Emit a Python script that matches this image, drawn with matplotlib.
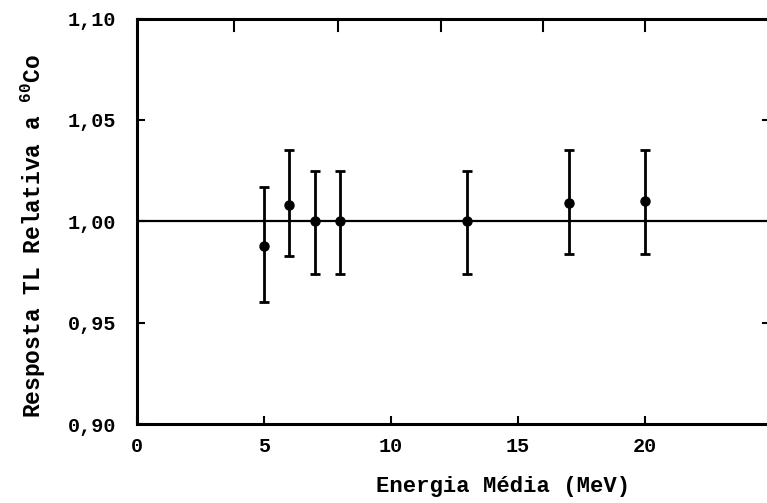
import matplotlib
matplotlib.use("Agg")
import matplotlib.pyplot as plt
import numpy as np

# energia media (MeV) e resposta TL relativa a Co-60
energia = [5, 6, 7, 8, 13, 17, 20]
resposta = [0.988, 1.008, 1.000, 1.000, 1.000, 1.009, 1.010]
erro_sup = [1.017, 1.035, 1.025, 1.025, 1.025, 1.035, 1.035]
erro_inf = [0.960, 0.983, 0.974, 0.974, 0.974, 0.984, 0.984]

xticks = [0, 5, 10, 15, 20]
yticks = [0.90, 0.95, 1.00, 1.05, 1.10]
ytick_labels = ["0,90", "0,95", "1,00", "1,05", "1,10"]
top_ticks = [3.8, 7.9, 11.95, 16.0, 20.0]
right_ticks = [0.95, 1.05]

plt.rcParams['font.family'] = 'Liberation Mono'
plt.rcParams['font.weight'] = 'bold'
plt.rcParams['axes.labelweight'] = 'bold'
plt.rcParams['mathtext.fontset'] = 'custom'
plt.rcParams['mathtext.rm'] = 'Liberation Mono:bold'
plt.rcParams['mathtext.default'] = 'regular'

fig = plt.figure(figsize=(7.67, 5.03), dpi=100)
ax = fig.add_axes([0.1786, 0.157, 0.828, 0.806])

resp = np.array(resposta)
yerr = [resp - np.array(erro_inf), np.array(erro_sup) - resp]
ax.errorbar(energia, resposta, yerr=yerr, fmt='o', color='black', ms=6.5,
            elinewidth=2, capsize=3.3, capthick=2, zorder=3)
ax.axhline(1.0, color='black', lw=1.6, zorder=2)

ax.set_xlim(0, 25)
ax.set_ylim(0.90, 1.10)
ax.set_xticks(xticks)
ax.set_xticklabels([str(t) for t in xticks])
ax.set_yticks(yticks)
ax.set_yticklabels(ytick_labels)
ax.tick_params(axis='both', direction='in', length=6, width=1.5, labelsize=14.5, pad=9)
ax.tick_params(axis='y', pad=15)

for s in ax.spines.values():
    s.set_linewidth(2.2)

# ticks do topo e da direita (desenho original)
for t in top_ticks:
    ax.plot([t, t], [1.10, 1.10 - 0.006], color='black', lw=1.5, clip_on=False)
for t in right_ticks:
    ax.plot([24.85, 24.65], [t, t], color='black', lw=1.5, clip_on=False)

ax.set_xlabel('Energia Média (MeV)', fontsize=16)
ax.xaxis.set_label_coords(0.576, -0.128)
ax.set_ylabel('Resposta TL Relativa a $^{60}$Co', fontsize=16.5)
ax.yaxis.set_label_coords(-0.14, 0.465)

fig.savefig('out.png', dpi=100)
